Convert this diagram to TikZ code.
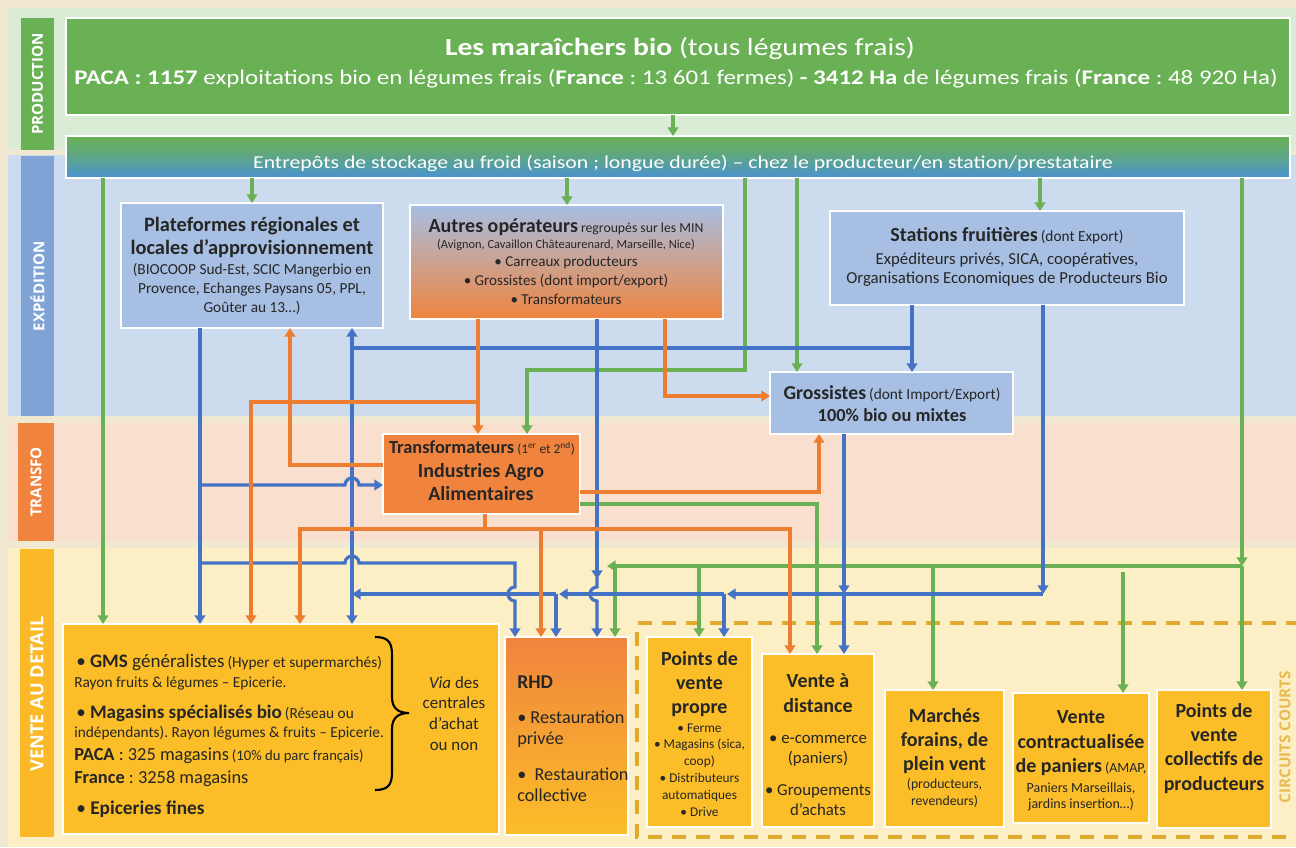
\documentclass[tikz,border=0pt]{standalone}
\usepackage{graphicx}
\usepackage{fontspec}
\setmainfont{Carlito}
\newfontfamily\labfont{Open Sans}
\usetikzlibrary{arrows.meta,fit,shadings}
\frenchspacing
\definecolor{pagebg}{HTML}{F0E8D0}
\definecolor{prodbg}{HTML}{DAECD5}
\definecolor{expbg}{HTML}{CCDBED}
\definecolor{trabg}{HTML}{F9DFCD}
\definecolor{venbg}{HTML}{FDEFC5}
\definecolor{cgreen}{HTML}{6AB155}
\definecolor{cexp}{HTML}{7FA3D5}
\definecolor{cboxblue}{HTML}{A7BFE3}
\definecolor{corange}{HTML}{F0843E}
\definecolor{cyellow}{HTML}{FBBE28}
\definecolor{cylab}{HTML}{FBB927}
\definecolor{eblue}{HTML}{4A93D4}
\definecolor{lgreen}{HTML}{6AB155}
\definecolor{lblue}{HTML}{4472C4}
\definecolor{lorange}{HTML}{ED7D31}
\definecolor{dashgold}{HTML}{E0AA2C}
\definecolor{ccgold}{HTML}{E8BA52}
\definecolor{txtc}{HTML}{262626}
\newcommand\myfs[2]{\fontsize{#1}{#2}\selectfont}
\tikzset{
  box/.style={draw=white, line width=1pt, inner sep=0pt, outer sep=0pt},
  lab/.style={rotate=90, text=white, font=\frenchspacing\labfont\bfseries\myfs{11.3}{13}, inner sep=0pt},
  tipA/.style={-{Triangle[width=8pt,length=6.5pt]}},
  conn/.style={line width=2.4pt},
  gl/.style={conn, draw=lgreen},
  bl/.style={conn, draw=lblue},
  ol/.style={conn, draw=lorange},
  ga/.style={gl, tipA},
  ba/.style={bl, tipA},
  oa/.style={ol, tipA},
  t/.style={text=txtc, inner sep=0pt, anchor=base, align=center},
  tl/.style={text=txtc, inner sep=0pt, anchor=base west, align=left},
  dashline/.style={draw=dashgold, line width=3pt, dash pattern=on 10.5pt off 7.5pt},
}
\begin{document}
\begin{tikzpicture}[x=0.75pt, y=-0.75pt]
\useasboundingbox (0,0) rectangle (1296,847);
\fill[pagebg] (0,0) rectangle (1296,847);
% bands
\fill[prodbg] (8,8) rectangle (1296,150);
\fill[expbg] (8,155) rectangle (1296,416);
\fill[trabg] (8,423) rectangle (1296,541);
\fill[venbg] (8,548) rectangle (1296,847);
% band labels
\node[box, draw=none, fill=cgreen, fit={(21,18) (54,150)}] (prodbar) {};
\node[box, draw=none, fill=cexp, fit={(21,156) (54,416)}] (expbar) {};
\node[box, draw=none, fill=corange, fit={(18,423) (54,541)}] (trabar) {};
\node[box, draw=none, fill=cylab, fit={(20,549) (54,837)}] (venbar) {};
\node[lab] (prodt) at (37.5,84) {PRODUCTION};
\node[lab] (expt) at (37.5,286) {EXPÉDITION};
\node[lab] (trat) at (36,482) {TRANSFO};
\node[lab, font=\labfont\bfseries\myfs{13.6}{15}] (vent) at (37,694) {VENTE AU DETAIL};
% circuits courts frame
\draw[dashline] (1300,623) -- (637,623) -- (637,837) -- (1300,837);
\node[lab, text=ccgold, font=\labfont\bfseries\myfs{11.4}{13}] (cct) at (1285,737) {CIRCUITS COURTS};
% boxes
\node[box, fill=cgreen, fit={(66,18) (1290,115)}] (maraich) {};
\node[box, top color=cgreen, bottom color=eblue, middle color=cgreen!60!eblue, fit={(66,136) (1290,178)}] (entrep) {};
\node[box, fill=cboxblue, fit={(121,203) (383,328)}] (plat) {};
\node[box, top color=cboxblue, bottom color=corange, fit={(410,205) (723,319)}] (autres) {};
\node[box, fill=cboxblue, fit={(830,211) (1184,305)}] (stations) {};
\node[box, fill=cboxblue, fit={(770,372) (1013,434)}] (gross) {};
\node[box, fill=corange, fit={(383,434) (580,514)}] (transf) {};
\node[box, fill=cyellow, fit={(63,624) (499,834)}] (gms) {};
\node[box, top color=corange, bottom color=cyellow, fit={(505,637) (628,835)}] (rhd) {};
\node[box, fill=cyellow, fit={(647,637) (752,827)}] (pvp) {};
\node[box, fill=cyellow, fit={(762,654) (874,827)}] (vad) {};
\node[box, fill=cyellow, fit={(885,690) (1004,827)}] (marches) {};
\node[box, fill=cyellow, fit={(1013,693) (1149,823)}] (vcp) {};
\node[box, fill=cyellow, fit={(1157,690) (1271,828)}] (pvc) {};
% brace
\draw[line width=1.6pt, black] (375,637) .. controls (388,637) and (392,642) .. (392,655) -- (392,697) .. controls (392,708) and (398,713) .. (409,713) .. controls (398,713) and (392,718) .. (392,729) -- (392,772) .. controls (392,785) and (388,790) .. (375,790);
% ---------- connectors: green
\draw[ga] (maraich.south -| 673,0) -- (entrep.north -| 673,0);
\draw[ga] (entrep.south -| 103,0) -- (gms.north -| 103,0);
\draw[ga] (entrep.south -| 252,0) -- (plat.north -| 252,0);
\draw[ga] (entrep.south -| 567,0) -- (autres.north -| 567,0);
\draw[ga] (entrep.south -| 745,0) -- (745,370) -- (527,370) -- (transf.north -| 527,0);
\draw[ga] (entrep.south -| 797,0) -- (gross.north -| 797,0);
\draw[ga] (entrep.south -| 1040,0) -- (stations.north -| 1040,0);
\coordinate (gj) at (1242,566);
\draw[ga] (entrep.south -| gj) -- (gj);
\draw[ga] (gj) -- (pvc.north -| gj);
\draw[ga] (gj) -- (607,566);
\draw[ga] (615,566) -- (rhd.north -| 615,0);
\draw[ga] (699,566) -- (pvp.north -| 699,0);
\draw[ga] (933,566) -- (marches.north -| 933,0);
\draw[ga] (1123,572) -- (vcp.north -| 1123,0);
\draw[ga] (transf.east |- 0,504) -- (817,504) -- (vad.north -| 817,0);
% ---------- connectors: blue
\draw[ba] (plat.south -| 200,0) -- (gms.north -| 200,0);
\draw[ba] (200,485) -- (345,485) arc[start angle=180, end angle=360, radius=7] -- (transf.west |- 0,485);
\draw[ba] (200,563) -- (345,563) arc[start angle=180, end angle=360, radius=7] -- (515,563) -- (515,587) arc[start angle=270, end angle=90, radius=7] -- (rhd.north -| 515,0);
\draw[bl, {Triangle[width=8pt,length=6.5pt]}-{Triangle[width=8pt,length=6.5pt]}] (plat.south -| 352,0) -- (gms.north -| 352,0);
\draw[bl] (912,348) -- (352,348);
\draw[ba] (stations.south -| 912,0) -- (gross.north -| 912,0);
\coordinate (bj) at (1043,594);
\draw[ba] (stations.south -| bj) -- (bj);
\draw[ba] (bj) -- (727,594);
\draw[ba] (724,594) -- (559,594);
\draw[ba] (556,594) -- (352,594);
\draw[ba] (724,594) -- (pvp.north -| 724,0);
\draw[ba] (556,594) -- (rhd.north -| 556,0);
\draw[ba] (gross.south -| 844,0) -- (844,594);
\draw[ba] (844,594) -- (vad.north -| 844,0);
\draw[ba] (autres.south -| 597,0) -- (597,579);
\draw[ba] (597,577) -- (597,587) arc[start angle=270, end angle=90, radius=7] -- (rhd.north -| 597,0);
% ---------- connectors: orange
\draw[oa] (autres.south -| 478,0) -- (transf.north -| 478,0);
\draw[oa] (478,402) -- (251,402) -- (gms.north -| 251,0);
\draw[oa] (autres.south -| 665,0) -- (665,396) -- (gross.west |- 0,396);
\draw[oa] (transf.west |- 0,465) -- (290,465) -- (plat.south -| 290,0);
\draw[oa] (transf.east |- 0,492) -- (819,492) -- (gross.south -| 819,0);
\draw[ol] (transf.south -| 485,0) -- (485,529);
\draw[oa] (485,529) -- (300,529) -- (gms.north -| 300,0);
\draw[oa] (485,529) -- (790,529) -- (vad.north -| 790,0);
\draw[oa] (541,529) -- (rhd.north -| 541,0);
% ---------- texts (multi-line nodes: base = last line)
\node[t, text=white, font=\myfs{18.5}{22}] (title) at (680,55) {\scalebox{1.2}[1]{\textbf{Les maraîchers bio} (tous légumes frais)}};
\node[t, text=white, font=\myfs{15.6}{18}] (subtitle) at (676,84) {\scalebox{1.2}[1]{\textbf{PACA : 1157} exploitations bio en légumes frais (\textbf{France} : 13 601 fermes) \textbf{- 3412 Ha} de légumes frais (\textbf{France} : 48 920 Ha)}};
\node[t, text=white, font=\myfs{13.6}{16}] (entt) at (683,168) {\scalebox{1.2}[1]{Entrepôts de stockage au froid (saison ; longue durée) – chez le producteur/en station/prestataire}};
\node[t, font=\myfs{15.3}{17.25}\bfseries] (platt) at (252,254) {Plateformes régionales et\\locales d'approvisionnement};
\node[t, font=\myfs{11.5}{14.25}] (plats) at (252,312) {(BIOCOOP Sud-Est, SCIC Mangerbio en\\Provence, Echanges Paysans 05, PPL,\\Goûter au 13…)};
\node[t] (autt) at (566,232) {{\myfs{15}{17}\bfseries Autres opérateurs} {\myfs{10.3}{12}regroupés sur les MIN}};
\node[t, font=\myfs{9.3}{11}] (autm) at (566,248) {(Avignon, Cavaillon Châteaurenard, Marseille, Nice)};
\node[t, font=\myfs{11.3}{14.25}] (autb) at (566,304) {• Carreaux producteurs\\• Grossistes (dont import/export)\\• Transformateurs};
\node[t] (stat) at (1007,241) {{\myfs{15}{17}\bfseries Stations fruitières} {\myfs{11.5}{13}(dont Export)}};
\node[t, font=\myfs{12.6}{14.25}] (stas) at (1007,283) {Expéditeurs privés, SICA, coopératives,\\Organisations Economiques de Producteurs Bio};
\node[t] (grot) at (892,399) {{\myfs{14.8}{17}\bfseries Grossistes} {\myfs{11.5}{13}(dont Import/Export)}};
\node[t, font=\myfs{13.8}{16}\bfseries] (grob) at (892,421) {100\% bio ou mixtes};
\node[t] (trat1) at (482,453) {{\myfs{13.8}{16}\bfseries Transformateurs} {\myfs{10}{12}(1\textsuperscript{er} et 2\textsuperscript{nd})}};
\node[t, font=\myfs{15}{17.25}\bfseries] (trat2) at (481,500) {Industries Agro\\Alimentaires};
% GMS
\node[tl] (gms1) at (76,667) {{\myfs{14.3}{16}• \textbf{GMS} généralistes} {\myfs{11.5}{13}(Hyper et supermarchés)}};
\node[tl, font=\myfs{11.5}{13}] (gms2) at (74,687) {Rayon fruits \& légumes – Epicerie.};
\node[tl] (gms3) at (76,718) {{\myfs{14.3}{16}• \textbf{Magasins spécialisés bio}} {\myfs{11.5}{13}(Réseau ou}};
\node[tl, font=\myfs{11.5}{13}] (gms4) at (74,737) {indépendants). Rayon légumes \& fruits – Epicerie.};
\node[tl] (gms5) at (74,760) {{\myfs{13.8}{16}\textbf{PACA} : 325 magasins} {\myfs{11}{13}(10\% du parc français)}};
\node[tl, font=\myfs{13.8}{16}] (gms6) at (74,783) {\textbf{France} : 3258 magasins};
\node[tl, font=\myfs{14.5}{16}] (gms7) at (76,814) {• \textbf{Epiceries fines}};
\node[t, font=\myfs{12.7}{15.5}] (via) at (454,750) {\textit{Via} des\\centrales\\d’achat\\ou non};
% RHD
\node[tl, font=\myfs{14.7}{16}\bfseries] (rhd1) at (517,688) {RHD};
\node[tl, font=\myfs{13.7}{15.75}] (rhd2) at (517,744) {• Restauration\\privée};
\node[tl, font=\myfs{13.7}{15.75}] (rhd3) at (517,801) {•\ \ Restauration\\collective};
% PVP
\node[t, font=\myfs{15}{18}\bfseries] (pvp1) at (699.5,713) {Points de\\vente\\propre};
\node[t, font=\myfs{10}{12.6}] (pvp2) at (699.5,816) {• Ferme\\• Magasins (sica,\\coop)\\• Distributeurs\\automatiques\\• Drive};
% VAD
\node[t, font=\myfs{15}{18.75}\bfseries] (vad1) at (818,712) {Vente à\\distance};
\node[t, font=\myfs{12.6}{15}] (vad2) at (818,763) {• e-commerce\\(paniers)};
\node[t, font=\myfs{12.6}{15}] (vad3) at (818,815) {• Groupements\\d’achats};
% Marches
\node[t, font=\myfs{15}{18}\bfseries] (mar1) at (944.5,770) {Marchés\\forains, de\\plein vent};
\node[t, font=\myfs{10.3}{12.75}] (mar2) at (944.5,805) {(producteurs,\\revendeurs)};
% VCP
\node[t, font=\myfs{15}{18.4}\bfseries] (vcp1) at (1081,748) {Vente\\contractualisée};
\node[t] (vcp2) at (1081,772) {{\myfs{15}{18}\bfseries de paniers} {\myfs{10.5}{12}(AMAP,}};
\node[t, font=\myfs{10.5}{12}] (vcp3) at (1081,808) {Paniers Marseillais,\\jardins insertion…)};
% PVC
\node[t, font=\myfs{15}{18.2}\bfseries] (pvc1) at (1214,790) {Points de\\vente\\collectifs de\\producteurs};
\end{tikzpicture}
\end{document}
